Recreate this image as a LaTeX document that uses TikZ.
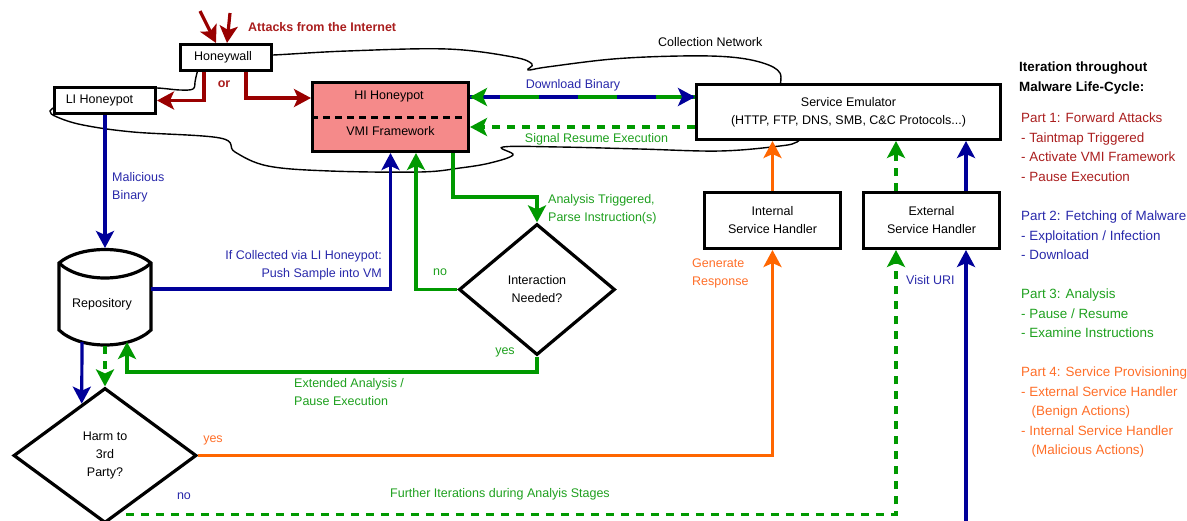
\documentclass[tikz,border=0pt]{standalone}
\usepackage{fontspec}
\setmainfont{Liberation Sans}
\usetikzlibrary{arrows.meta,shapes.geometric,calc}

\definecolor{lred}{RGB}{153,0,0}
\definecolor{lblue}{RGB}{0,0,153}
\definecolor{lgreen}{RGB}{0,153,0}
\definecolor{lorange}{RGB}{255,102,0}
\definecolor{tred}{RGB}{170,30,30}
\definecolor{tblue}{RGB}{40,40,170}
\definecolor{tgreen}{RGB}{30,160,30}
\definecolor{torange}{RGB}{255,110,40}
\definecolor{hifill}{RGB}{245,138,138}

\tikzset{
  box/.style={draw=black, line width=3.2pt, fill=white, inner sep=0pt, align=center,
              font=\fontsize{12.5}{18}\selectfont},
  decision/.style={box, shape=diamond},
  flow/.style={line width=3.2pt, -{Stealth[length=17pt,width=18pt,inset=4pt]}},
  dashflow/.style={flow, dash pattern=on 8pt off 7pt},
  lbl/.style={inner sep=0pt, font=\fontsize{12.5}{18}\selectfont},
  side/.style={inner sep=0pt, align=left, anchor=north west, font=\fontsize{13.4}{19.5}\selectfont},
  cloudline/.style={line width=1.4pt, black},
}

\begin{document}
\begin{tikzpicture}[x=1pt, y=-1pt]
\useasboundingbox (0,0) rectangle (1187,520);

% collection network outline (drawn behind the boxes)
\draw[cloudline] plot[smooth, tension=0.6] coordinates {
  (250,55) (273,55) (347,51) (447,49) (513,57) (532,64) (528,70) (547,67)
  (613,59) (680,56) (730,57) (763,63) (780,73) (779,90)};
\draw[cloudline] plot[smooth, tension=0.6] coordinates {
  (803,135) (797,142) (780,146) (720,151) (640,149) (560,147) (503,147)
  (513,155) (490,163) (460,168) (420,172) (330,171) (268,166) (235,152)
  (220,138) (133,132) (83,125) (57,117) (50,111) (60,104)};
\draw[cloudline] plot[smooth, tension=0.6] coordinates {
  (140,89) (157,88) (180,90) (193,89) (195,82) (196,77) (199,65)};

% boxes
\node[box, minimum width=90.8pt, minimum height=25.8pt] (hw) at (226,57.5)
  {\hspace*{-3pt}Honeywall\hspace*{3pt}};
\node[box, minimum width=100.8pt, minimum height=25.8pt] (li) at (105,100.5)
  {\hspace*{-5.5pt}LI Honeypot\hspace*{5.5pt}};
\node[box, fill=hifill, minimum width=155.8pt, minimum height=68.8pt] (hi) at (390.5,117) {};
\draw[black, line width=3pt, dash pattern=on 7pt off 5pt] (hi.west) -- (hi.east);
\node[lbl, anchor=base] (hitxt) at (389,99) {HI Honeypot};
\node[lbl, anchor=base] (vmitxt) at (390.5,135) {VMI Framework};
\node[box, minimum width=303.8pt, minimum height=54.8pt] (se) at (848.5,112)
  {Service Emulator\\(HTTP, FTP, DNS, SMB, C\&C Protocols...)};
\node[box, minimum width=135.8pt, minimum height=55.8pt] (ish) at (772.5,220.5)
  {Internal\\Service Handler};
\node[box, minimum width=135.8pt, minimum height=55.8pt] (esh) at (931.5,220.5)
  {External\\Service Handler};
\node[decision, minimum width=183pt, minimum height=135pt] (harm) at (105,455.5)
  {Harm to\\3rd\\Party?};
\node[decision, minimum width=156pt, minimum height=131pt] (inter) at (537,289.5)
  {Interaction\\Needed?};

% repository drum
\draw[black, line width=3.2pt, fill=white]
  (59,263) .. controls (80,245) and (130,245) .. (151,263) -- (151,330)
  .. controls (130,350) and (80,350) .. (59,330) -- cycle;
\draw[black, line width=3.2pt] (59,263) .. controls (80,283) and (130,283) .. (151,263);
\node[lbl, minimum width=92pt, minimum height=83pt] (repo) at (105,304)
  {\hspace*{-3pt}Repository\hspace*{3pt}};

% helper coordinates
\coordinate (atk1) at (200,11);  \coordinate (atk2) at (230,13);
\coordinate (xa1) at (216,0);    \coordinate (xa2) at (227,0);
\coordinate (xr1) at (204,0);    \coordinate (xr2) at (246,0);
\coordinate (yr2) at (0,98);
\coordinate (ydl) at (0,97);     \coordinate (ysr) at (0,127);
\coordinate (xno) at (416,0);    \coordinate (xtr) at (453,0);
\coordinate (ytr) at (0,197);    \coordinate (ypush) at (0,289);
\coordinate (yyes) at (0,372);
\coordinate (repotop) at (105,248);
\coordinate (repobotL) at (82,342);
\coordinate (repobotC) at (105,346);
\coordinate (repobotR) at (127,342);
\coordinate (xgd) at (896,0);    \coordinate (xbl) at (966,0);
\coordinate (yblue) at (0,523.5);
\coordinate (gstart) at ($(harm.east)!0.85!(harm.south)$);
\coordinate (harmtip) at ($(harm.north)!0.25!(harm.west)$);

% part 1: forwarding attacks
\draw[flow, lred] (atk1) -- (hw.north -| xa1);
\draw[flow, lred] (atk2) -- (hw.north -| xa2);
\draw[flow, lred] (hw.south -| xr1) |- (li.east);
\draw[flow, lred] (hw.south -| xr2) |- (hi.west |- yr2);

% download binary: alternating blue / green line with a head at each end
\draw[line width=3.2pt, lblue] (hi.east |- ydl) -- (se.west |- ydl);
\draw[line width=3.2pt, lgreen, dash pattern=on 39pt off 39pt] (se.west |- ydl) -- (hi.east |- ydl);
\draw[flow, lblue] ($(se.west |- ydl)+(-2,0)$) -- (se.west |- ydl);
\draw[flow, lgreen] ($(hi.east |- ydl)+(2,0)$) -- (hi.east |- ydl);

\draw[dashflow, lgreen] (se.west |- ysr) -- (hi.east |- ysr);

% collection and analysis
\draw[flow, lblue] (li.south) -- (repotop);
\draw[flow, lblue] (repo.east |- ypush) -| (hi.south);
\draw[flow, lgreen] (inter.west) -| (hi.south -| xno);
\draw[flow, lgreen] (hi.south -| xtr) -- (xtr |- ytr) -| (inter.north);
\draw[flow, lgreen] (inter.south) -- (inter.south |- yyes) -| (repobotR);
\draw[flow, lblue] (repobotL) -- (harmtip);
\draw[dashflow, lgreen] (repobotC) -- (harm.north);

% service provisioning
\draw[flow, lorange] (harm.east) -| (ish.south);
\draw[flow, lorange] (ish.north) -- (se.south -| ish.north);
\draw[dashflow, lgreen, dash phase=8pt] (gstart) -| (esh.south -| xgd);
\draw[dashflow, lgreen] (esh.north -| xgd) -- (se.south -| xgd);
\draw[flow, lblue] (harm.south) |- (xbl |- yblue) -- (esh.south -| xbl);
\draw[flow, lblue] (esh.north -| xbl) -- (se.south -| xbl);

% connector labels
\node[lbl, text=tred, font=\bfseries\fontsize{12.5}{15}\selectfont, anchor=base west] (atklbl) at (248,31) {Attacks from the Internet};
\node[lbl, text=tred, font=\bfseries\fontsize{12.5}{15}\selectfont, anchor=base] (orlbl) at (224,87) {or};
\node[lbl, anchor=base west] (cnlbl) at (658,46.5) {Collection Network};
\node[lbl, text=tblue, anchor=base] (dllbl) at (573,88) {Download Binary};
\node[lbl, text=tgreen, anchor=base] (srlbl) at (596.5,142) {Signal Resume Execution};
\node[lbl, text=tblue, align=left, anchor=north west] (mblbl) at (112,172) {Malicious\\Binary};
\node[lbl, text=tblue, align=right, anchor=north east] (pslbl) at (382,250) {If Collected via LI Honeypot:\\Push Sample into VM};
\node[lbl, text=tgreen, align=left, anchor=north west] (atlbl) at (548,194) {Analysis Triggered,\\Parse Instruction(s)};
\node[lbl, text=tgreen, anchor=base] (nolbl) at (440,275) {no};
\node[lbl, text=tgreen, anchor=base] (yeslbl) at (505,354) {yes};
\node[lbl, text=tgreen, align=left, anchor=north west] (ealbl) at (294,378) {Extended Analysis /\\Pause Execution};
\node[lbl, text=torange, anchor=base] (hyeslbl) at (213,442) {yes};
\node[lbl, text=torange, align=left, anchor=north west] (grlbl) at (692,259) {Generate\\Response};
\node[lbl, text=tblue, anchor=base west] (urilbl) at (906,284) {Visit URI};
\node[lbl, text=tblue, anchor=base] (hnolbl) at (184,499) {no};
\node[lbl, text=tgreen, anchor=base] (filbl) at (500,497) {Further Iterations during Analyis Stages};

% life-cycle legend
\node[side, font=\bfseries\fontsize{13.4}{20}\selectfont] (hdr) at (1019,62)
  {Iteration throughout\\Malware Life-Cycle:};
\node[side, text=tred] (part1) at (1021,113)
  {Part 1: Forward Attacks\\- Taintmap Triggered\\- Activate VMI Framework\\- Pause Execution};
\node[side, text=tblue] (part2) at (1021,211)
  {Part 2: Fetching of Malware\\- Exploitation / Infection\\- Download};
\node[side, text=tgreen] (part3) at (1021,289)
  {Part 3: Analysis\\- Pause / Resume\\- Examine Instructions};
\node[side, text=torange] (part4) at (1021,367)
  {Part 4: Service Provisioning\\- External Service Handler\\\hspace*{10.5pt}(Benign Actions)\\- Internal Service Handler\\\hspace*{10.5pt}(Malicious Actions)};
\end{tikzpicture}
\end{document}
